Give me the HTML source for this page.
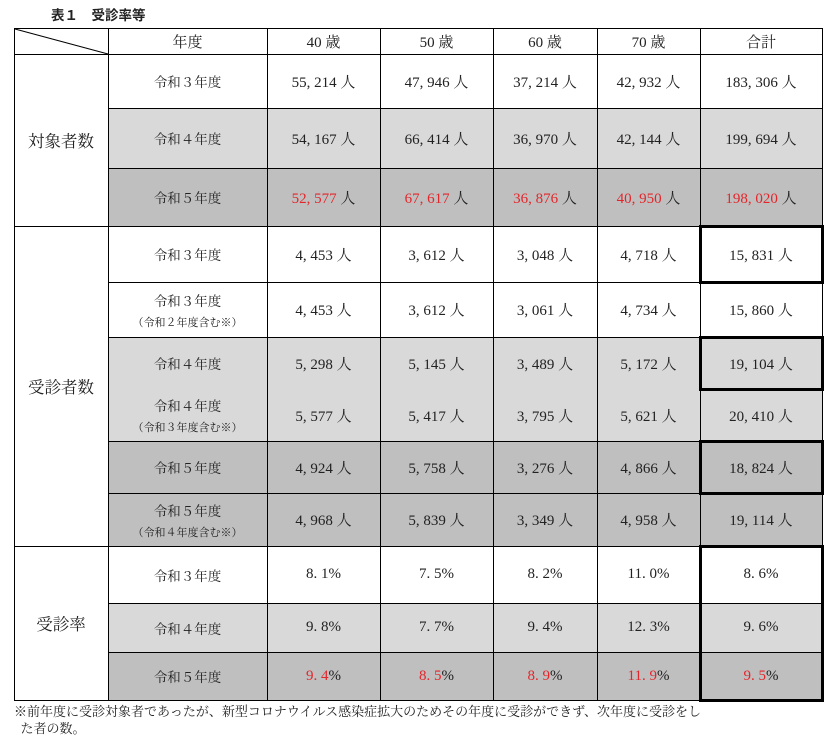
<!DOCTYPE html>
<html><head><meta charset="utf-8"><style>
body{margin:0;width:829px;height:743px;background:#fff;position:relative;overflow:hidden;font-family:"Liberation Serif","Noto Serif CJK JP",serif;color:#222}
.c{position:absolute;box-sizing:border-box;display:flex;align-items:center;justify-content:center;flex-direction:column;font-size:15px;text-align:center;z-index:1}
.sub{font-size:11px;margin-top:4px}
.lab{font-size:13.5px}
.red{color:#e3262b}
.ln{position:absolute;background:#000;z-index:5}
.box{position:absolute;box-sizing:border-box;border:3px solid #000;pointer-events:none;z-index:6}
</style></head><body>
<div style="position:absolute;left:51px;top:4px;font:bold 13.5px 'Liberation Sans','Noto Sans CJK JP',sans-serif;">表１　受診率等</div>
<svg style="position:absolute;left:0;top:0;z-index:7" width="829" height="743"><line x1="15" y1="29" x2="108" y2="54" stroke="#000" stroke-width="1"/></svg>
<div style="position:absolute;left:14px;top:703px;font:13px 'Liberation Serif','Noto Serif CJK JP',serif;line-height:17px;color:#222">※前年度に受診対象者であったが、新型コロナウイルス感染症拡大のためその年度に受診ができず、次年度に受診をし<br>&nbsp;&nbsp;た者の数。</div>
<script>
const colX=[14,108,267,380,493,597,700,822];
const headers=["年度","40 歳","50 歳","60 歳","70 歳","合計"];
const rowY=[54,108,168,226,282,337,389,441,493,546,603,652,700];
const labels=["令和３年度","令和４年度","令和５年度","令和３年度","令和３年度","令和４年度","令和４年度","令和５年度","令和５年度","令和３年度","令和４年度","令和５年度"];
const subs=["","","","","（令和２年度含む※）","","（令和３年度含む※）","","（令和４年度含む※）","","",""];
const vals=[
["55, 214 人","47, 946 人","37, 214 人","42, 932 人","183, 306 人"],
["54, 167 人","66, 414 人","36, 970 人","42, 144 人","199, 694 人"],
["52, 577 人","67, 617 人","36, 876 人","40, 950 人","198, 020 人"],
["4, 453 人","3, 612 人","3, 048 人","4, 718 人","15, 831 人"],
["4, 453 人","3, 612 人","3, 061 人","4, 734 人","15, 860 人"],
["5, 298 人","5, 145 人","3, 489 人","5, 172 人","19, 104 人"],
["5, 577 人","5, 417 人","3, 795 人","5, 621 人","20, 410 人"],
["4, 924 人","5, 758 人","3, 276 人","4, 866 人","18, 824 人"],
["4, 968 人","5, 839 人","3, 349 人","4, 958 人","19, 114 人"],
["8. 1%","7. 5%","8. 2%","11. 0%","8. 6%"],
["9. 8%","7. 7%","9. 4%","12. 3%","9. 6%"],
["9. 4%","8. 5%","8. 9%","11. 9%","9. 5%"]];
const shade=[0,1,2,0,0,1,1,2,2,0,1,2];
const redRow=[0,0,1,0,0,0,0,0,0,0,0,1];
const noLineBelow=[0,0,0,0,0,1,0,0,0,0,0,0];
const groups=[["対象者数",0,3],["受診者数",3,9],["受診率",9,12]];
const thick=[3,5,7];
const bgs=["#fff","#d9d9d9","#bfbfbf"];
function cell(x0,x1,y0,y1,html,bg,cls,name){
 const d=document.createElement('div');
 d.className='c '+(cls||'');
 d.style.left=x0+'px';d.style.top=y0+'px';d.style.width=(x1-x0)+'px';d.style.height=(y1-y0)+'px';
 d.style.background=bg||'#fff';
 d.innerHTML=html;
 
 
 document.body.appendChild(d);return d;}
function line(x,y,w,h){
 const l=document.createElement('div');l.className='ln';
 l.style.left=x+'px';l.style.top=y+'px';l.style.width=w+'px';l.style.height=h+'px';
 
 
 document.body.appendChild(l);}
cell(14,108,28,54,"","#fff","","corner-cell");
headers.forEach((h,i)=>{cell(colX[i+1],colX[i+2],28,54,h,"#fff","","header-"+(i+1));});
groups.forEach((g,i)=>{cell(14,108,rowY[g[1]],rowY[g[2]],g[0],"#fff","","group-label-"+(i+1)).style.fontSize='16.5px';});
labels.forEach((l,r)=>{
 const bg=bgs[shade[r]];
 cell(colX[1],colX[2],rowY[r],rowY[r+1],'<span>'+l+'</span>'+(subs[r]?'<span class="sub">'+subs[r]+'</span>':''),bg,'lab','row-label-'+(r+1));
 vals[r].forEach((v,c)=>{
  let html=v;
  if(redRow[r]){html=v.includes('%')?'<span><span class="red">'+v.replace('%','')+'</span>%</span>':'<span><span class="red">'+v.replace(' 人','')+'</span> 人</span>';}
  cell(colX[c+2],colX[c+3],rowY[r],rowY[r+1],html,bg,'','value-r'+(r+1)+'-c'+(c+1));
 });
});
// grid lines
line(14,28,809,1);line(14,54,809,1);
colX.forEach(x=>line(x,28,1,673));
rowY.forEach((y,i)=>{if(i===0)return;const r=i-1;if(noLineBelow[r])return;
 const full=groups.some(g=>g[2]===i);
 const x0=full?14:108;line(x0,y,823-x0,1);});
thick.forEach(r=>{const b=document.createElement('div');b.className='box';b.style.left=(colX[6]-1)+'px';b.style.top=(rowY[r]-1)+'px';b.style.width=(colX[7]-colX[6]+3)+'px';b.style.height=(rowY[r+1]-rowY[r]+3)+'px';


document.body.appendChild(b);});
const rb=document.createElement('div');rb.className='box';rb.style.left=(colX[6]-1)+'px';rb.style.top=(rowY[9]-1)+'px';rb.style.width=(colX[7]-colX[6]+3)+'px';rb.style.height=(rowY[12]-rowY[9]+3)+'px';


document.body.appendChild(rb);
</script>
</body></html>
